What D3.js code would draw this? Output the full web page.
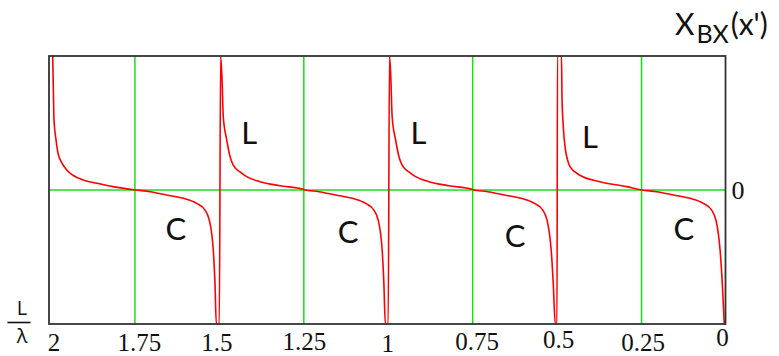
<!DOCTYPE html>
<html>
<head>
<meta charset="utf-8">
<script src="https://cdn.jsdelivr.net/npm/d3@7"></script>
<style>
    body { margin: 0; background: #fff; }
    svg { display: block; }
    .tick text { font-family: "Liberation Serif", "DejaVu Serif", serif; font-size: 25px; fill: #111; }
    .mark { font-family: Lato, "Open Sans", sans-serif; font-size: 31px; fill: #111; }
</style>
</head>
<body>
<svg id="chart" width="779" height="356"></svg>
<script>
'use strict';

// L/lambda axis, running from 2 on the left down to 0 on the right
let tickValues = [2, 1.75, 1.5, 1.25, 1, 0.75, 0.5, 0.25, 0];
let gridValues = [1.75, 1.25, 0.75, 0.25];

// X_BX(x'), one array per period: [L/lambda, X]
let branch1 = [
    [1.9935, 20], [1.9917, 15.4], [1.9896, 10.4], [1.9837, 7.5], [1.9778, 5.5],
    [1.9660, 4.0], [1.9520, 3.0], [1.9334, 2.2], [1.9038, 1.5], [1.8623, 1.0],
    [1.8150, 0.5], [1.7483, 0], [1.7054, -0.25], [1.6560, -0.75], [1.6068, -1.24],
    [1.5671, -2.0], [1.5425, -3.0], [1.5298, -4.5], [1.5227, -6.5], [1.5180, -9.0],
    [1.5130, -13.9], [1.5091, -20]
];
let branch2 = [
    [1.5002, -20], [1.4963, 20], [1.4925, 17], [1.4884, 10.9], [1.4783, 7.5],
    [1.4685, 5.0], [1.4588, 3.7], [1.4389, 2.7], [1.4191, 2.0], [1.3797, 1.24],
    [1.3205, 0.64], [1.2515, 0.1], [1.2483, 0], [1.2054, -0.25], [1.1560, -0.75],
    [1.1068, -1.24], [1.0671, -2.0], [1.0425, -3.0], [1.0298, -4.5], [1.0227, -6.5],
    [1.0180, -9.0], [1.0130, -13.9], [1.0086, -20]
];
let branch3 = [
    [1.0002, -20], [0.9963, 20], [0.9925, 17], [0.9884, 10.9], [0.9783, 7.5],
    [0.9685, 5.0], [0.9588, 3.7], [0.9389, 2.7], [0.9191, 2.0], [0.8797, 1.24],
    [0.8205, 0.64], [0.7515, 0.1], [0.7483, 0], [0.7054, -0.25], [0.6560, -0.75],
    [0.6068, -1.24], [0.5671, -2.0], [0.5425, -3.0], [0.5298, -4.5], [0.5227, -6.5],
    [0.5175, -9.0], [0.5115, -13.9], [0.5055, -20]
];
let branch4 = [
    [0.5004, -20], [0.4990, 20], [0.4871, 20], [0.4856, 13.9], [0.4817, 9.4],
    [0.4753, 6.0], [0.4703, 4.7], [0.4619, 3.5], [0.4323, 2.2], [0.3731, 1.24],
    [0.2941, 0.5], [0.2497, 0], [0.2054, -0.25], [0.1560, -0.75], [0.1068, -1.24],
    [0.0671, -2.0], [0.0425, -3.0], [0.0298, -4.5], [0.0227, -6.5], [0.0175, -9.0],
    [0.0110, -13.9], [0.0050, -20]
];

// region labels: inductive (L) above, capacitive (C) below
let inductiveLabels = [[1.4114, 8.46], [0.9104, 8.5], [0.4027, 7.96]];
let capacitiveLabels = [[1.629, -5.78], [1.119, -6.3], [0.6247, -6.9], [0.1244, -5.8]];

let svg = d3.select("#chart"),
    frame = {left: 49, right: 725.5, top: 56, bottom: 324};

let x = d3.scaleLinear().domain([2, 0]).range([50.5, 726]);
let y = d3.scaleLinear().domain([-20, 20]).range([frame.bottom, frame.top]);

svg.append("defs").append("clipPath")
    .attr("id", "plotClip")
    .append("rect")
    .attr("x", frame.left)
    .attr("y", frame.top)
    .attr("width", frame.right - frame.left)
    .attr("height", frame.bottom - frame.top);

// green grid
svg.append("g")
    .selectAll("line")
    .data(gridValues)
    .enter().append("line")
    .attr("x1", d => x(d)).attr("x2", d => x(d))
    .attr("y1", frame.top).attr("y2", frame.bottom)
    .attr("stroke", "#14e014")
    .attr("stroke-width", 1.5);

svg.append("line")
    .attr("x1", frame.left).attr("x2", frame.right)
    .attr("y1", y(0)).attr("y2", y(0))
    .attr("stroke", "#14e014")
    .attr("stroke-width", 1.5);

// the trace, one path through every period
let line = d3.line()
    .curve(d3.curveMonotoneX)
    .x(d => x(d[0]))
    .y(d => y(d[1]));

svg.append("path")
    .attr("clip-path", "url(#plotClip)")
    .attr("fill", "none")
    .attr("stroke", "#ff0000")
    .attr("stroke-width", 1.6)
    .attr("d", line([].concat(branch1, branch2, branch3, branch4)));

// frame
svg.append("rect")
    .attr("x", frame.left)
    .attr("y", frame.top)
    .attr("width", frame.right - frame.left)
    .attr("height", frame.bottom - frame.top)
    .attr("fill", "none")
    .attr("stroke", "#333")
    .attr("stroke-width", 1.8);

// bottom tick labels (Mathcad sets a few of them off the common baseline)
let nudge = {"2": [3, 0], "1.75": [4, 0], "1.5": [-3, 0], "1.25": [0, -1], "1": [-1, 1],
             "0.75": [4, -1], "0.5": [1, -3], "0.25": [1, 0], "0": [-4, -5]};
let xAxis = svg.append("g")
    .attr("transform", "translate(0," + frame.bottom + ")")
    .call(d3.axisBottom(x).tickValues(tickValues).tickSize(0).tickFormat(d => String(d)));
xAxis.select(".domain").remove();
xAxis.selectAll(".tick text")
    .attr("dy", 0)
    .attr("y", d => 27 + nudge[String(d)][1])
    .attr("x", d => nudge[String(d)][0]);

// y zero label on the right
svg.append("text")
    .attr("x", frame.right + 6)
    .attr("y", y(0))
    .attr("dy", "0.35em")
    .style("font-family", '"Liberation Serif", serif')
    .style("font-size", "26px")
    .attr("fill", "#111")
    .text("0");

// region labels
svg.selectAll("text.lab-l")
    .data(inductiveLabels)
    .enter().append("text")
    .attr("class", "mark lab-l")
    .attr("x", d => x(d[0]))
    .attr("y", d => y(d[1]))
    .attr("dy", "0.36em")
    .attr("text-anchor", "middle")
    .text("L");

svg.selectAll("text.lab-c")
    .data(capacitiveLabels)
    .enter().append("text")
    .attr("class", "mark lab-c")
    .attr("x", d => x(d[0]))
    .attr("y", d => y(d[1]))
    .attr("dy", "0.36em")
    .attr("text-anchor", "middle")
    .text("C");

// y title X_BX(x')
let title = svg.append("text")
    .attr("x", 675)
    .attr("y", 35)
    .style("font-family", 'Lato, "Open Sans", sans-serif')
    .attr("fill", "#111");
title.append("tspan").style("font-size", "30px").text("X");
title.append("tspan").style("font-size", "25px").attr("dy", 8).attr("dx", 2).text("BX");
title.append("tspan").style("font-size", "30px").attr("dy", -8).attr("dx", 2).text("(x')");

// x title L / lambda
svg.append("text")
    .attr("x", 22).attr("y", 315)
    .attr("text-anchor", "middle")
    .style("font-family", '"Open Sans", sans-serif')
    .style("font-size", "20px")
    .attr("fill", "#111")
    .text("L");
svg.append("line")
    .attr("x1", 7.5).attr("x2", 30.5)
    .attr("y1", 322.5).attr("y2", 322.5)
    .attr("stroke", "#111")
    .attr("stroke-width", 1.6);
svg.append("text")
    .attr("x", 22).attr("y", 343)
    .attr("text-anchor", "middle")
    .style("font-family", '"Open Sans", sans-serif')
    .style("font-size", "20px")
    .attr("fill", "#111")
    .text("λ");
</script>
</body>
</html>
